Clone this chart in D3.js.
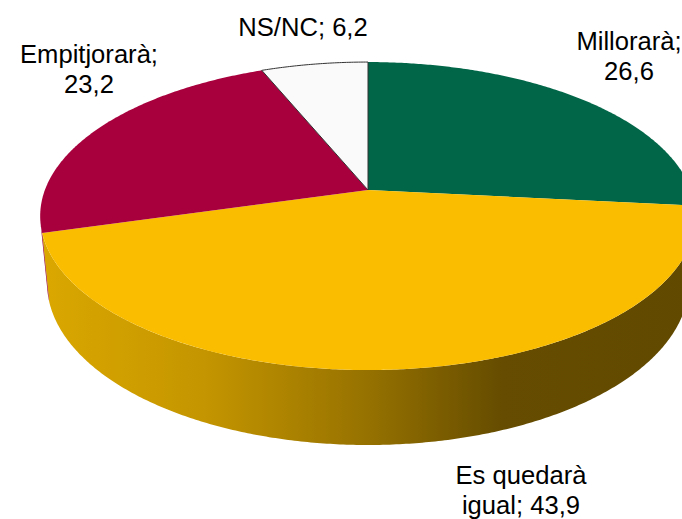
<!DOCTYPE html>
<html>
<head>
<meta charset="utf-8">
<script src="https://cdn.jsdelivr.net/npm/d3@7"></script>
<style>
  body { margin: 0; background: #fff; }
  svg { display: block; }
</style>
</head>
<body>
<div id="container"></div>
<script>
// data
const categories = ["Millorarà", "Es quedarà igual", "Empitjorarà", "NS/NC"];
const values = [26.6, 43.9, 23.2, 6.2];
const labelLines = [["Millorarà;", "26,6"], ["Es quedarà", "igual; 43,9"], ["Empitjorarà;", "23,2"], ["NS/NC; 6,2"]];
const colors = ["#006647", "#FBBD00", "#A8003C", "#FAFAFA"];

// set dimensions
const w = 682;
const h = 519;

// perspective camera for the 3d disc (radius = 1)
const cx = 368, cy = 190;
const sinPhi = 0.463, cosPhi = Math.sqrt(1 - sinPhi * sinPhi);
const camDist = 5.24;
const focal = 1693;
const depth = 0.236;

function project(theta, z) {
    const u = Math.sin(theta), v = Math.cos(theta);
    const zc = camDist + v * cosPhi - z * sinPhi;
    const yc = v * sinPhi + z * cosPhi;
    return [cx + focal * u / zc, cy - focal * yc / zc];
}

const pie = d3.pie().sort(null).value((d) => d.value);
const arcs = pie(categories.map((c, i) => ({name: c, value: values[i], color: colors[i], lines: labelLines[i]})));

// rim points between two angles
function rim(a0, a1, z) {
    const n = Math.max(2, Math.ceil(Math.abs(a1 - a0) / (Math.PI / 360)));
    return d3.range(n + 1).map((k) => project(a0 + (a1 - a0) * k / n, z));
}

const line = d3.line();

const svg = d3.select("#container")
              .append("svg")
              .attr("width", w)
              .attr("height", h);

// side gradients
const defs = svg.append("defs");
const sideStops = {
    "#FBBD00": [[0, "#DBA800"], [0.25, "#C49500"], [0.5, "#957100"], [0.7, "#654C00"], [1, "#614900"]],
    "#A8003C": [[0, "#940034"], [0.5, "#6A0025"], [1, "#45001A"]],
    "#006647": [[0, "#00573D"], [1, "#003324"]],
    "#FAFAFA": [[0, "#E0E0E0"], [1, "#A0A0A0"]]
};
arcs.forEach(function(d, i){
    const g = defs.append("linearGradient")
                  .attr("id", "side" + i)
                  .attr("gradientUnits", "userSpaceOnUse")
                  .attr("x1", 40).attr("x2", 700)
                  .attr("y1", 0).attr("y2", 0);
    sideStops[d.data.color].forEach(function(s){
        g.append("stop").attr("offset", s[0]).attr("stop-color", s[1]);
    });
});

// visible part of the outer wall
const tVis = Math.acos(-1 / (camDist * cosPhi));
const wallLo = tVis, wallHi = 2 * Math.PI - tVis;

const walls = svg.append("g");
arcs.forEach(function(d, i){
    const a = Math.max(d.startAngle, wallLo);
    const b = Math.min(d.endAngle, wallHi);
    if (b <= a) return;
    const pts = rim(a, b, 0).concat(rim(b, a, -depth));
    walls.append("path")
         .attr("d", line(pts) + "Z")
         .attr("fill", "url(#side" + i + ")");
});

// top faces
svg.append("g")
   .selectAll("path")
   .data(arcs)
   .enter()
   .append("path")
   .attr("d", (d) => line([[cx, cy]].concat(rim(d.startAngle, d.endAngle, 0))) + "Z")
   .attr("fill", (d) => d.data.color)
   .attr("stroke", (d) => d.data.name === "NS/NC" ? "#333" : "none")
   .attr("stroke-width", 1)
   .attr("stroke-linejoin", "round");

// data labels
const labelPos = [[629, 50], [521, 484], [89, 63], [303, 36]];
const labels = svg.append("g")
                  .style("font-family", "'Liberation Sans', Arial, sans-serif")
                  .style("font-size", "25.6px")
                  .attr("fill", "#000")
                  .attr("text-anchor", "middle");
arcs.forEach(function(d, i){
    const t = labels.append("text")
                    .attr("x", labelPos[i][0])
                    .attr("y", labelPos[i][1]);
    d.data.lines.forEach(function(s, j){
        t.append("tspan")
         .attr("x", labelPos[i][0])
         .attr("dy", j === 0 ? 0 : 29.5)
         .text(s);
    });
});
</script>
</body>
</html>
